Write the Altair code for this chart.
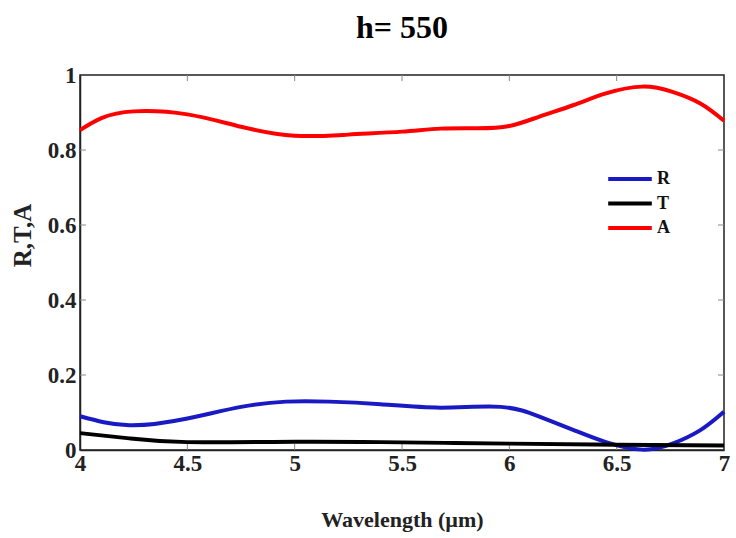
import altair as alt
import pandas as pd

# Wavelength samples (µm)
wl_A = [4.0, 4.1, 4.25, 4.5, 4.75, 5.0, 5.25, 5.5, 5.68, 5.85, 6.0, 6.14, 6.3, 6.45, 6.62, 6.76, 6.89, 7.0]
val_A = [0.853, 0.885, 0.903, 0.895, 0.862, 0.838, 0.841, 0.849, 0.857, 0.858, 0.864, 0.889, 0.920, 0.951, 0.969, 0.955, 0.924, 0.878]

wl_R = [4.0, 4.23, 4.5, 4.75, 4.96, 5.16, 5.4, 5.68, 5.96, 6.14, 6.3, 6.45, 6.62, 6.76, 6.89, 7.0]
val_R = [0.090, 0.066, 0.084, 0.115, 0.129, 0.129, 0.122, 0.113, 0.115, 0.089, 0.053, 0.021, 0.001, 0.017, 0.053, 0.102]

wl_T = [4.0, 4.23, 4.5, 5.0, 5.4, 5.7, 6.0, 6.5, 7.0]
val_T = [0.045, 0.031, 0.021, 0.022, 0.021, 0.019, 0.017, 0.014, 0.012]

series_names = ["R", "T", "A"]
series_colors = ["#1a1ac4", "#000000", "#ff0000"]

x_ticks = [4, 4.5, 5, 5.5, 6, 6.5, 7]
y_ticks = [0, 0.2, 0.4, 0.6, 0.8, 1]
x_inner = [4.5, 5, 5.5, 6, 6.5]
y_inner = [0.2, 0.4, 0.6, 0.8]

rows = []
for name, xs, ys in [("R", wl_R, val_R), ("T", wl_T, val_T), ("A", wl_A, val_A)]:
    for a, b in zip(xs, ys):
        rows.append({"wl": a, "v": b, "s": name})
df = pd.DataFrame(rows)

W, H = 644, 375
FONT = "Liberation Serif"

axis_style = dict(labelFont=FONT, labelFontSize=23, labelFontWeight="bold", labelColor="#222",
                  titleFont=FONT, titleFontWeight="bold", titleColor="#222",
                  domainColor="#222", domainWidth=1.5, ticks=False, grid=False,
                  labelFlush=False, format="~g")

xscale = alt.Scale(domain=[4, 7], nice=False)
yscale = alt.Scale(domain=[0, 1], nice=False)

lines = alt.Chart(df).mark_line(strokeWidth=4, interpolate="natural").encode(
    x=alt.X("wl:Q", scale=xscale,
            axis=alt.Axis(values=x_ticks, title="Wavelength (µm)", titleFontSize=22,
                          labelPadding=2, titlePadding=34, **axis_style)),
    y=alt.Y("v:Q", scale=yscale,
            axis=alt.Axis(values=y_ticks, title="R,T,A", titleFontSize=25,
                          titleY=160, titleX=-45, titleAngle=270,
                          labelPadding=4, **axis_style)),
    color=alt.Color("s:N", scale=alt.Scale(domain=series_names, range=series_colors),
                    legend=alt.Legend(title=None, orient="none", legendX=526, legendY=93,
                                      symbolType="stroke", symbolSize=1900,
                                      symbolStrokeWidth=4, clipHeight=22,
                                      labelFont=FONT, labelFontSize=18,
                                      labelFontWeight="bold", labelColor="#111",
                                      labelOffset=3, rowPadding=2.5)),
)

xt = pd.DataFrame({"t": x_inner})
yt = pd.DataFrame({"t": y_inner})
tick_style = dict(color="#888888", strokeWidth=1)
bot = alt.Chart(xt).mark_rule(**tick_style).encode(
    x=alt.X("t:Q", scale=xscale), y=alt.value(H), y2=alt.value(H - 6))
top = alt.Chart(xt).mark_rule(**tick_style).encode(
    x=alt.X("t:Q", scale=xscale), y=alt.value(0), y2=alt.value(6))
left = alt.Chart(yt).mark_rule(**tick_style).encode(
    y=alt.Y("t:Q", scale=yscale), x=alt.value(0), x2=alt.value(6))
right = alt.Chart(yt).mark_rule(**tick_style).encode(
    y=alt.Y("t:Q", scale=yscale), x=alt.value(W), x2=alt.value(W - 6))

chart = alt.layer(bot, top, left, right, lines).properties(
    width=W, height=H,
    background="white",
    title=alt.TitleParams("h= 550", font=FONT, fontSize=32, fontWeight="bold",
                          color="#000", offset=19, anchor="middle"),
    autosize=alt.AutoSizeParams(type="none"),
    padding={"left": 80, "top": 75, "right": 12, "bottom": 88},
).configure_view(stroke="#222", strokeWidth=1.5)

chart.save("out.html", embed_options={"renderer": "svg", "actions": False})
